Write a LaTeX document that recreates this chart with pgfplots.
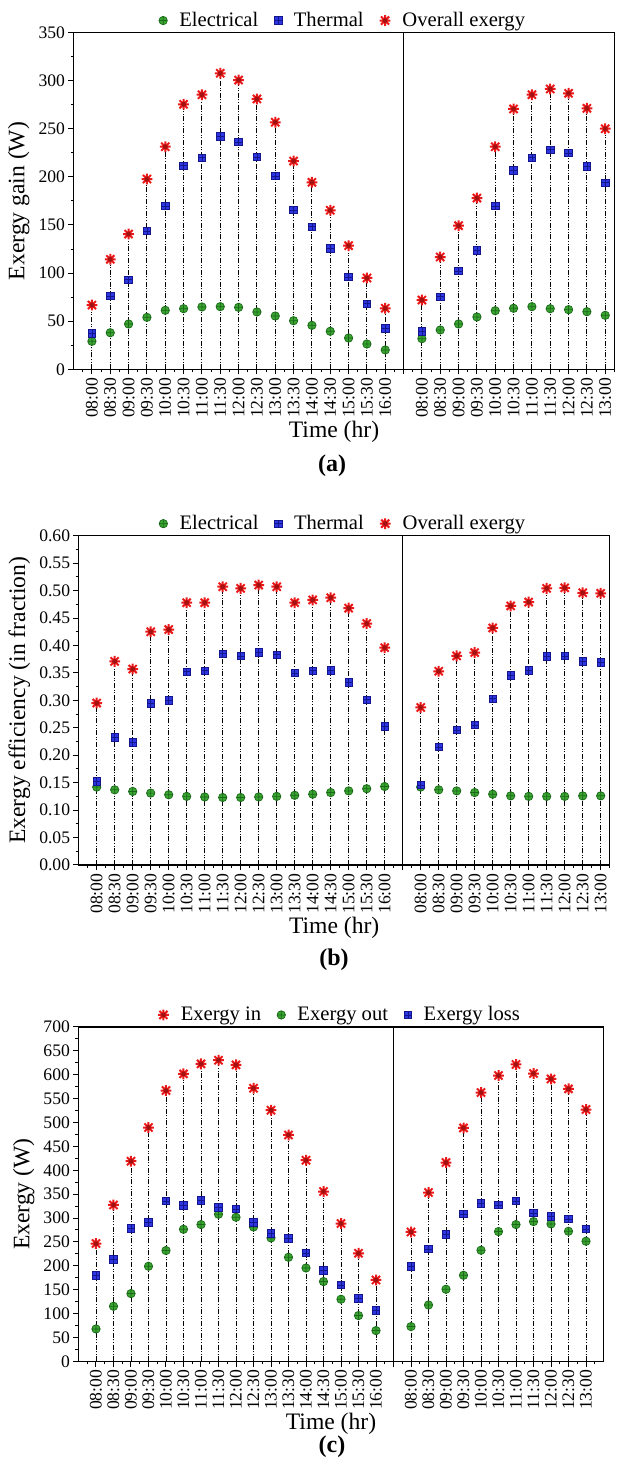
\documentclass[border=0pt]{standalone}
\usepackage{fontspec}
\setmainfont{Liberation Serif}
\usepackage{pgfplots}
\usepackage{pgfplotstable}
\pgfplotsset{compat=1.18}
\usetikzlibrary{plotmarks}

\definecolor{cgreen}{RGB}{60,165,50}
\definecolor{cgreenD}{RGB}{25,105,25}
\definecolor{cblue}{RGB}{45,55,225}
\definecolor{cblueD}{RGB}{20,20,140}
\definecolor{cred}{RGB}{235,25,25}

\pgfdeclareplotmark{sqplus}{%
  \pgfpathrectangle{\pgfpoint{-\pgfplotmarksize}{-\pgfplotmarksize}}{\pgfpoint{2\pgfplotmarksize}{2\pgfplotmarksize}}%
  \pgfusepathqfillstroke
  \pgfpathmoveto{\pgfpoint{-\pgfplotmarksize}{0pt}}\pgfpathlineto{\pgfpoint{\pgfplotmarksize}{0pt}}%
  \pgfpathmoveto{\pgfpoint{0pt}{-\pgfplotmarksize}}\pgfpathlineto{\pgfpoint{0pt}{\pgfplotmarksize}}%
  \pgfusepathqstroke}
\pgfdeclareplotmark{burst}{%
  \pgfpathmoveto{\pgfpoint{-\pgfplotmarksize}{0pt}}\pgfpathlineto{\pgfpoint{\pgfplotmarksize}{0pt}}%
  \pgfpathmoveto{\pgfpoint{0pt}{-\pgfplotmarksize}}\pgfpathlineto{\pgfpoint{0pt}{\pgfplotmarksize}}%
  \pgfpathmoveto{\pgfpoint{-0.75\pgfplotmarksize}{-0.75\pgfplotmarksize}}\pgfpathlineto{\pgfpoint{0.75\pgfplotmarksize}{0.75\pgfplotmarksize}}%
  \pgfpathmoveto{\pgfpoint{-0.75\pgfplotmarksize}{0.75\pgfplotmarksize}}\pgfpathlineto{\pgfpoint{0.75\pgfplotmarksize}{-0.75\pgfplotmarksize}}%
  \pgfusepathqstroke
  \pgfpathcircle{\pgfpointorigin}{0.45\pgfplotmarksize}\pgfusepathqfill}

% x: 0..16 day 1 (08:00-16:00), 18..28 day 2 (08:00-13:00)
\pgfplotstableread{
x  el    th    ov
0  29.1  37.4  66.8
1  38.0  76.2  114.3
2  47.1  93.1  140.6
3  54.0  143.8 197.8
4  61.3  169.8 231.4
5  63.0  211.6 275.5
6  64.8  220.0 285.4
7  65.1  242.2 307.7
8  64.4  236.3 300.7
9  59.6  220.7 281.0
10 55.4  200.9 256.8
11 50.5  165.6 216.5
12 45.7  148.2 194.4
13 39.5  125.8 165.3
14 32.5  95.9  128.5
15 26.3  68.2  94.9
16 20.1  42.6  63.4
18 31.8  39.5  72.0
19 40.9  75.5  116.7
20 47.1  102.2 149.3
21 54.4  123.7 178.0
22 60.9  169.8 231.4
23 63.4  206.9 270.6
24 65.1  220.0 285.4
25 63.0  228.3 291.4
26 62.0  224.8 286.9
27 59.9  211.0 271.3
28 56.1  194.0 250.1
}\tableA

\pgfplotstableread{
x  el    th    ov
0  0.142 0.152 0.295
1  0.137 0.233 0.371
2  0.134 0.223 0.357
3  0.131 0.295 0.425
4  0.128 0.300 0.429
5  0.125 0.352 0.478
6  0.124 0.354 0.478
7  0.123 0.385 0.507
8  0.123 0.381 0.504
9  0.124 0.387 0.510
10 0.125 0.383 0.507
11 0.127 0.350 0.478
12 0.129 0.354 0.483
13 0.132 0.355 0.487
14 0.135 0.333 0.468
15 0.139 0.301 0.440
16 0.143 0.253 0.396
18 0.142 0.146 0.287
19 0.137 0.215 0.353
20 0.135 0.246 0.381
21 0.132 0.255 0.387
22 0.129 0.303 0.432
23 0.126 0.346 0.472
24 0.125 0.355 0.479
25 0.125 0.380 0.504
26 0.125 0.381 0.505
27 0.126 0.371 0.496
28 0.126 0.369 0.495
}\tableB

\pgfplotstableread{
x  ein   eout  eloss
0  246.5 67.7  180.1
1  327.4 115.2 213.0
2  418.9 141.8 278.6
3  489.5 199.0 290.5
4  567.0 231.9 335.8
5  601.8 276.5 326.1
6  622.8 286.3 336.6
7  630.5 307.9 321.9
8  620.7 301.6 319.0
9  571.8 281.3 290.5
10 525.8 258.3 268.1
11 474.0 217.8 257.0
12 421.0 195.4 226.9
13 355.5 166.9 190.0
14 288.4 129.9 159.8
15 226.2 95.7  132.0
16 170.3 64.3  106.8
18 270.8 72.7  199.0
19 353.4 117.9 235.2
20 416.2 150.8 266.0
21 488.7 180.1 308.5
22 562.8 232.5 331.0
23 598.4 271.7 327.4
24 621.5 286.3 335.8
25 602.6 292.6 310.6
26 591.3 287.6 303.7
27 570.4 272.3 298.1
28 527.2 251.4 277.1
}\tableC

\pgfplotsset{
  base/.style={
    scale only axis,
    xmin=-1,
    axis line style={line width=0.75pt},
    tick align=outside, tick pos=left,
    major tick length=2.6pt, minor tick length=1.5pt,
    every tick/.style={black, line width=0.5pt},
    xtick={0,...,28},
    xticklabels={08:00,08:30,09:00,09:30,10:00,10:30,11:00,11:30,12:00,12:30,13:00,13:30,14:00,14:30,15:00,15:30,16:00,{},08:00,08:30,09:00,09:30,10:00,10:30,11:00,11:30,12:00,12:30,13:00},
    minor xtick={-0.5,0.5,...,28.5},
    xticklabel style={rotate=90, anchor=east, inner sep=1.5pt},
    yticklabel style={inner sep=1.5pt},
    tick label style={font=\fontsize{8.8}{10}\selectfont},
    /pgf/number format/assume math mode=true,
    label style={font=\fontsize{11.8}{13}\selectfont},
    xlabel={Time (hr)},
    xlabel style={yshift=3.5pt, xshift=-5pt},
    ylabel style={yshift=-0.5pt},
    legend style={at={(0.5,1)}, anchor=south, yshift=-2.5pt, draw=none, fill=none,
      font=\fontsize{10.3}{12}\selectfont, legend cell align=left,
      /tikz/every odd column/.append style={column sep=4pt},
      /tikz/every even column/.append style={column sep=6pt}},
    legend columns=-1,
  },
  drop/.style={ycomb, black, line width=0.45pt,
    dash pattern=on 2.5pt off 0.8pt on 0.5pt off 0.8pt on 0.5pt off 0.8pt, forget plot},
  mgreen/.style={only marks, mark=oplus*, mark size=2.1pt,
    mark options={fill=cgreen, draw=cgreenD, line width=0.35pt}},
  mblue/.style={only marks, mark=sqplus, mark size=1.9pt,
    mark options={fill=cblue, draw=cblueD, line width=0.35pt}},
  mred/.style={only marks, mark=burst, mark size=2.7pt,
    mark options={draw=cred, fill=cred!70!black, line width=1pt}},
}

\begin{document}
\begin{tikzpicture}
\path[use as bounding box] (0,0) rectangle (312.5pt,729pt);

% ---------------- (a)
\begin{axis}[base,
  at={(36.8pt,544.35pt)}, anchor=south west,
  width=270.4pt, height=168.35pt,
  xmax=28.5, ymin=0, ymax=350,
  ytick={0,50,...,350}, minor ytick={25,75,...,325},
  ylabel={Exergy gain (W)},
]
\addplot[drop] table[x=x,y=el] {\tableA};
\addplot[drop] table[x=x,y=th] {\tableA};
\addplot[drop] table[x=x,y=ov] {\tableA};
\addplot[mgreen] table[x=x,y=el] {\tableA};
\addplot[mblue] table[x=x,y=th] {\tableA};
\addplot[mred] table[x=x,y=ov] {\tableA};
\legend{Electrical,Thermal,Overall exergy}
\draw[line width=0.75pt] (axis cs:17,0) -- (axis cs:17,350);
\end{axis}
\node[font=\bfseries\fontsize{12}{14}\selectfont] at (166pt,496pt) {(a)};

% ---------------- (b)
\begin{axis}[base,
  at={(39.35pt,296.5pt)}, anchor=south west,
  width=265.5pt, height=164.65pt,
  xmax=28.5, ymin=0, ymax=0.6,
  ytick={0,0.05,...,0.61}, minor ytick={0.025,0.075,...,0.58},
  yticklabel style={/pgf/number format/.cd, fixed, fixed zerofill, precision=2},
  ylabel={Exergy efficiency (in fraction)},
]
\addplot[drop] table[x=x,y=el] {\tableB};
\addplot[drop] table[x=x,y=th] {\tableB};
\addplot[drop] table[x=x,y=ov] {\tableB};
\addplot[mgreen] table[x=x,y=el] {\tableB};
\addplot[mblue] table[x=x,y=th] {\tableB};
\addplot[mred] table[x=x,y=ov] {\tableB};
\legend{Electrical,Thermal,Overall exergy}
\draw[line width=0.75pt] (axis cs:17,0) -- (axis cs:17,0.6);
\end{axis}
\node[font=\bfseries\fontsize{12}{14}\selectfont] at (167pt,249pt) {(b)};

% ---------------- (c)
\begin{axis}[base,
  at={(39.25pt,48.35pt)}, anchor=south west,
  width=262.5pt, height=167.15pt,
  xmax=29, ymin=0, ymax=700,
  ytick={0,50,...,700}, minor ytick={25,75,...,675},
  ylabel={Exergy (W)},
]
\addplot[drop] table[x=x,y=ein] {\tableC};
\addplot[drop] table[x=x,y=eout] {\tableC};
\addplot[drop] table[x=x,y=eloss] {\tableC};
\addplot[mred] table[x=x,y=ein] {\tableC};
\addplot[mgreen] table[x=x,y=eout] {\tableC};
\addplot[mblue] table[x=x,y=eloss] {\tableC};
\legend{Exergy in,Exergy out,Exergy loss}
\draw[line width=0.75pt] (axis cs:17,0) -- (axis cs:17,700);
\end{axis}
\node[font=\bfseries\fontsize{12}{14}\selectfont] at (166pt,5.5pt) {(c)};
\end{tikzpicture}
\end{document}
